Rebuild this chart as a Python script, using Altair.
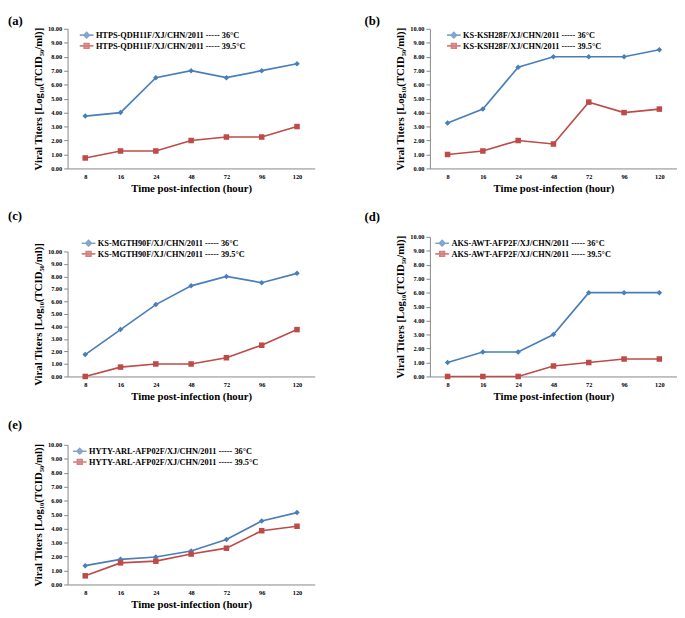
import altair as alt
import pandas as pd

hours = [8, 16, 24, 48, 72, 96, 120]
tags = ["(a)", "(b)", "(c)", "(d)", "(e)"]
strains = [
    "HTPS-QDH11F/XJ/CHN/2011",
    "KS-KSH28F/XJ/CHN/2011",
    "KS-MGTH90F/XJ/CHN/2011",
    "AKS-AWT-AFP2F/XJ/CHN/2011",
    "HYTY-ARL-AFP02F/XJ/CHN/2011",
]
temps = ["36°C", "39.5°C"]

a_36 = [3.75, 4.0, 6.5, 7.0, 6.5, 7.0, 7.5]
a_395 = [0.75, 1.25, 1.25, 2.0, 2.25, 2.25, 3.0]
b_36 = [3.25, 4.25, 7.25, 8.0, 8.0, 8.0, 8.5]
b_395 = [1.0, 1.25, 2.0, 1.75, 4.75, 4.0, 4.25]
c_36 = [1.75, 3.75, 5.75, 7.25, 8.0, 7.5, 8.25]
c_395 = [0.0, 0.75, 1.0, 1.0, 1.5, 2.5, 3.75]
d_36 = [1.0, 1.75, 1.75, 3.0, 6.0, 6.0, 6.0]
d_395 = [0.0, 0.0, 0.0, 0.75, 1.0, 1.25, 1.25]
e_36 = [1.35, 1.8, 1.97, 2.4, 3.22, 4.55, 5.15]
e_395 = [0.62, 1.55, 1.67, 2.18, 2.6, 3.85, 4.17]

y_ticks = [0, 1, 2, 3, 4, 5, 6, 7, 8, 9, 10]

FONT = "Liberation Serif"
BLUE = "#4A7EBB"
RED = "#BE4B48"
AXIS_GRAY = "#868686"

PATH_DIAMOND = "M-2,0L2,0M0,-0.8L0.8,0L0,0.8L-0.8,0Z"
PATH_SQUARE = "M-2,0L2,0M-0.7,-0.7L0.7,-0.7L0.7,0.7L-0.7,0.7Z"

RES = dict(color="independent", fill="independent", stroke="independent", shape="independent")


def panel(tag, strain, v36, v395, dx, offset, leg_x, y_range=None):
    l36 = f"{strain} ----- {temps[0]}"
    l395 = f"{strain} ----- {temps[1]}"
    df = pd.DataFrame({
        "hour": hours + hours,
        "value": v36 + v395,
        "series": [l36] * len(hours) + [l395] * len(hours),
        "marker": ["diamond"] * len(hours) + ["square"] * len(hours),
    })
    dom = [l36, l395]
    x = alt.X(
        "hour:O",
        title="Time post-infection (hour)",
        axis=alt.Axis(
            labelAngle=0, ticks=False, domainColor=AXIS_GRAY,
            labelFont=FONT, labelFontSize=6.5, labelFontWeight="bold",
            labelColor="black", labelPadding=5,
            titleFont=FONT, titleFontSize=11, titleFontWeight="bold",
            titleColor="black", titlePadding=3,
        ),
    )
    yscale = alt.Scale(domain=[0, 10]) if y_range is None else alt.Scale(domain=[0, 10], range=y_range)
    y = alt.Y(
        "value:Q",
        scale=yscale,
        title="Viral Titers [Log₁₀(TCID₅₀/ml)]",
        axis=alt.Axis(
            values=y_ticks, format=".2f", grid=False, tickSize=4,
            tickColor=AXIS_GRAY, domainColor=AXIS_GRAY,
            labelFont=FONT, labelFontSize=6.5, labelFontWeight="bold",
            labelColor="black", labelPadding=2,
            titleFont=FONT, titleFontSize=11, titleFontWeight="bold",
            titleColor="black", titlePadding=4,
        ),
    )
    col = alt.Scale(domain=dom, range=[BLUE, RED])
    leg = alt.Legend(
        title=None, orient="none", legendX=leg_x, legendY=2, padding=0,
        labelFont=FONT, labelFontSize=8.5, labelFontWeight="bold",
        labelColor="black", labelLimit=400, symbolSize=49, labelOffset=5,
        rowPadding={"expr": "-2"}, symbolStrokeWidth=1.6,
    )
    base = alt.Chart(df)
    keyl = base.mark_point(filled=True, size=0, strokeWidth=1.6).encode(
        x=x, y=y,
        fill=alt.Fill("series:N", scale=alt.Scale(domain=dom, range=[BLUE, RED]), legend=leg),
        stroke=alt.Stroke("series:N", scale=alt.Scale(domain=dom, range=[BLUE, RED]), legend=leg),
        shape=alt.Shape("series:N", scale=alt.Scale(domain=dom, range=[PATH_DIAMOND, PATH_SQUARE]), legend=leg),
    )
    line = base.mark_line(strokeWidth=1.7).encode(
        x=x, y=y,
        color=alt.Color("series:N", scale=col, legend=None),
    )
    pts = base.mark_point(filled=True, size=32, opacity=1).encode(
        x=x, y=y,
        color=alt.Color("series:N", scale=col, legend=None),
        shape=alt.Shape("marker:N", scale=None),
    )
    return alt.layer(keyl, line, pts).properties(
        width=253, height=143,
        title=alt.TitleParams(
            text=tag, anchor="start", frame="group", dx=dx, offset=offset,
            font=FONT, fontSize=13, fontWeight="bold", color="black",
            baseline="bottom",
        ),
    )


pa = panel(tags[0], strains[0], a_36, a_395, -61, -15, 15)
pb = panel(tags[1], strains[1], b_36, b_395, -67, -15, 20)
pc = panel(tags[2], strains[2], c_36, c_395, -61, 1.5, 17, y_range=[143, 15])
pd_ = panel(tags[3], strains[3], d_36, d_395, -67, -3, 8)
pe = panel(tags[4], strains[4], e_36, e_395, -61, -3, 8)

row1 = alt.hconcat(pa, pb, spacing=51).resolve_scale(**RES).resolve_legend(**RES)
row2 = alt.hconcat(pc, pd_, spacing=51).resolve_scale(**RES).resolve_legend(**RES)
lower = alt.vconcat(row2, pe, spacing=18).resolve_scale(**RES).resolve_legend(**RES)
chart = alt.vconcat(row1, lower, spacing=16).resolve_scale(**RES).resolve_legend(**RES).properties(
    padding=0, background="white"
).configure_view(stroke=None)

chart.save("out.html", embed_options={"renderer": "svg", "actions": False})
